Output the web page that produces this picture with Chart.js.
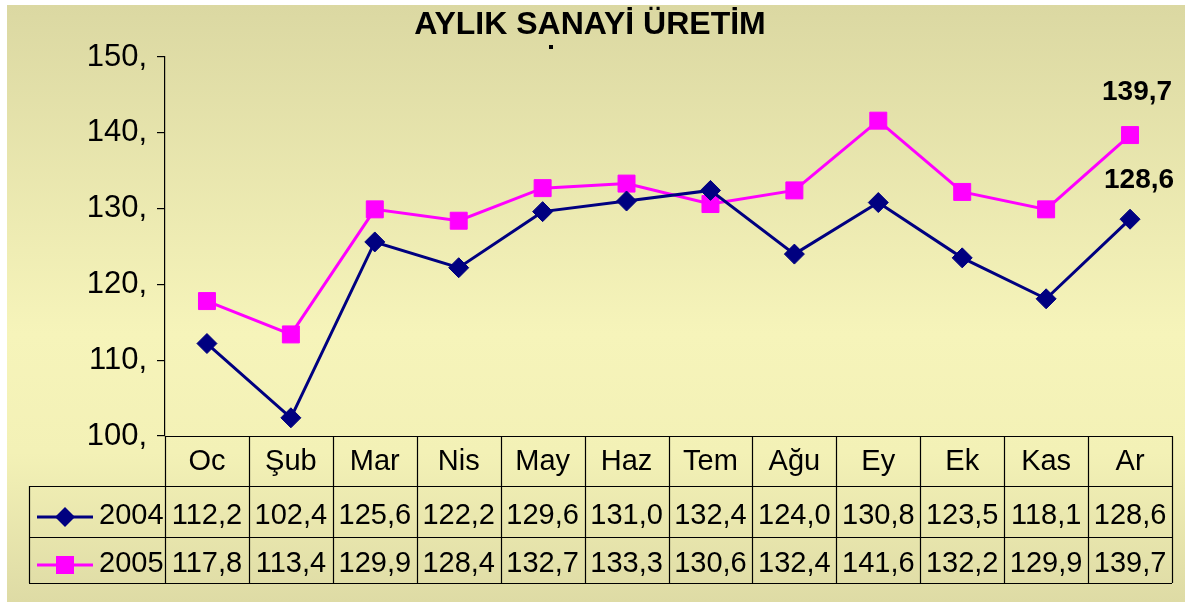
<!DOCTYPE html>
<html>
<head>
<meta charset="utf-8">
<script src="https://cdn.jsdelivr.net/npm/chart.js@4"></script>
<style>
  html, body { margin: 0; padding: 0; background: #fff; }
  #grafico { display: block; }
</style>
</head>
<body>
<canvas id="grafico" width="1185" height="602"></canvas>
<script>
// Datos del gráfico
var aylar = ['Oc', 'Şub', 'Mar', 'Nis', 'May', 'Haz', 'Tem', 'Ağu', 'Ey', 'Ek', 'Kas', 'Ar'];
var yillar = ['2004', '2005'];
var veri2004 = [112.2, 102.4, 125.6, 122.2, 129.6, 131.0, 132.4, 124.0, 130.8, 123.5, 118.1, 128.6];
var veri2005 = [117.8, 113.4, 129.9, 128.4, 132.7, 133.3, 130.6, 132.4, 141.6, 132.2, 129.9, 139.7];
var yTicks = [100, 110, 120, 130, 140, 150];
var baslik = 'AYLIK SANAYİ ÜRETİM';

var FONT = '"Liberation Sans", Arial, sans-serif';

function virgul(v) {
  return v.toFixed(1).replace('.', ',');
}

// fondo, tabla de datos, título y etiquetas
var tablaPlugin = {
  id: 'tabla',
  beforeDraw: function (chart) {
    var ctx = chart.ctx;
    ctx.save();
    ctx.fillStyle = '#ffffff';
    ctx.fillRect(0, 0, chart.width, chart.height);
    var g = ctx.createLinearGradient(0, 5, 0, chart.height);
    g.addColorStop(0, '#dbd8a2');
    g.addColorStop(0.55, '#f6f4ba');
    g.addColorStop(0.75, '#f3f1b6');
    g.addColorStop(1, '#dedba5');
    ctx.fillStyle = g;
    ctx.fillRect(7, 5, chart.width - 7, chart.height - 5);
    ctx.restore();
  },
  afterDraw: function (chart) {
    var ctx = chart.ctx;
    var area = chart.chartArea;
    var xs = chart.scales.x;
    var izq = area.left, der = area.right;
    var ancho = (der - izq) / aylar.length;
    var y0 = area.bottom, y1 = 486, y2 = 537, y3 = 583;
    var tablaIzq = 29;

    ctx.save();
    ctx.strokeStyle = '#000000';
    ctx.lineWidth = 1.2;
    ctx.beginPath();
    // líneas horizontales
    ctx.moveTo(izq, y0 + 0.5); ctx.lineTo(der, y0 + 0.5);
    [y1, y2, y3].forEach(function (y) {
      ctx.moveTo(tablaIzq, y + 0.5); ctx.lineTo(der, y + 0.5);
    });
    // líneas verticales
    for (var i = 0; i <= aylar.length; i++) {
      var x = Math.round(izq + i * ancho) + 0.5;
      ctx.moveTo(x, y0); ctx.lineTo(x, y3);
    }
    ctx.moveTo(tablaIzq + 0.5, y1); ctx.lineTo(tablaIzq + 0.5, y3);
    ctx.stroke();

    // textos de la tabla
    ctx.fillStyle = '#000000';
    ctx.font = '29px ' + FONT;
    ctx.textAlign = 'center';
    ctx.textBaseline = 'alphabetic';
    aylar.forEach(function (m, i) {
      var cx = xs.getPixelForValue(i);
      ctx.fillText(m, cx, 470);
      ctx.fillText(virgul(veri2004[i]), cx, 524);
      ctx.fillText(virgul(veri2005[i]), cx, 572);
    });

    // leyenda dentro de la tabla
    var filas = [{ y: 517, base: 524 }, { y: 565, base: 572 }];
    chart.data.datasets.forEach(function (ds, k) {
      var fy = filas[k].y;
      ctx.strokeStyle = ds.borderColor;
      ctx.lineWidth = ds.borderWidth;
      ctx.beginPath();
      ctx.moveTo(37, fy); ctx.lineTo(93, fy);
      ctx.stroke();
      ctx.fillStyle = ds.backgroundColor;
      ctx.beginPath();
      if (ds.pointStyle === 'rectRot') {
        ctx.moveTo(65, fy - 10); ctx.lineTo(75, fy); ctx.lineTo(65, fy + 10); ctx.lineTo(55, fy);
        ctx.closePath();
      } else {
        ctx.rect(56, fy - 9, 18, 18);
      }
      ctx.fill();
      ctx.fillStyle = '#000000';
      ctx.textAlign = 'left';
      ctx.fillText(yillar[k], 99, filas[k].base);
    });

    // título
    ctx.textAlign = 'center';
    ctx.font = 'bold 32px ' + FONT;
    ctx.fillText(baslik, 590, 34);
    ctx.fillRect(549, 45, 4, 4);

    // etiquetas del último punto
    ctx.font = 'bold 28px ' + FONT;
    var ultimo = aylar.length - 1;
    var p5 = chart.getDatasetMeta(1).data[ultimo];
    var p4 = chart.getDatasetMeta(0).data[ultimo];
    ctx.fillText(virgul(veri2005[ultimo]), p5.x + 7, p5.y - 35);
    ctx.fillText(virgul(veri2004[ultimo]), p4.x + 9, p4.y - 31);
    ctx.restore();
  }
};

var ctxLinea = document.getElementById('grafico').getContext('2d');
new Chart(ctxLinea, {
  type: 'line',
  data: {
    labels: aylar,
    datasets: [{
      label: yillar[0],
      data: veri2004,
      borderColor: '#000080',
      backgroundColor: '#000080',
      borderWidth: 3,
      pointStyle: 'rectRot',
      pointRadius: 10,
      pointBorderWidth: 1,
      tension: 0,
      clip: false
    }, {
      label: yillar[1],
      data: veri2005,
      borderColor: '#ff00ff',
      backgroundColor: '#ff00ff',
      borderWidth: 3,
      pointStyle: 'rect',
      pointRadius: 12,
      pointBorderWidth: 1,
      tension: 0,
      clip: false
    }]
  },
  options: {
    responsive: false,
    animation: false,
    layout: { padding: { left: 0, right: 12, top: 57, bottom: 166 } },
    plugins: {
      legend: { display: false },
      title: { display: false },
      tooltip: { enabled: false }
    },
    scales: {
      x: {
        display: false,
        offset: true
      },
      y: {
        min: 100,
        max: 150,
        afterBuildTicks: function (axis) {
          axis.ticks = yTicks.map(function (v) { return { value: v }; });
        },
        afterFit: function (axis) { axis.width = 165; },
        border: { display: true, color: '#000000', width: 1.2 },
        grid: { drawOnChartArea: false, color: '#000000', tickLength: 8, lineWidth: 1.2 },
        ticks: {
          color: '#000000',
          padding: 10,
          font: { size: 31, family: FONT },
          callback: function (v) { return v + ','; }
        }
      }
    }
  },
  plugins: [tablaPlugin]
});
</script>
</body>
</html>
